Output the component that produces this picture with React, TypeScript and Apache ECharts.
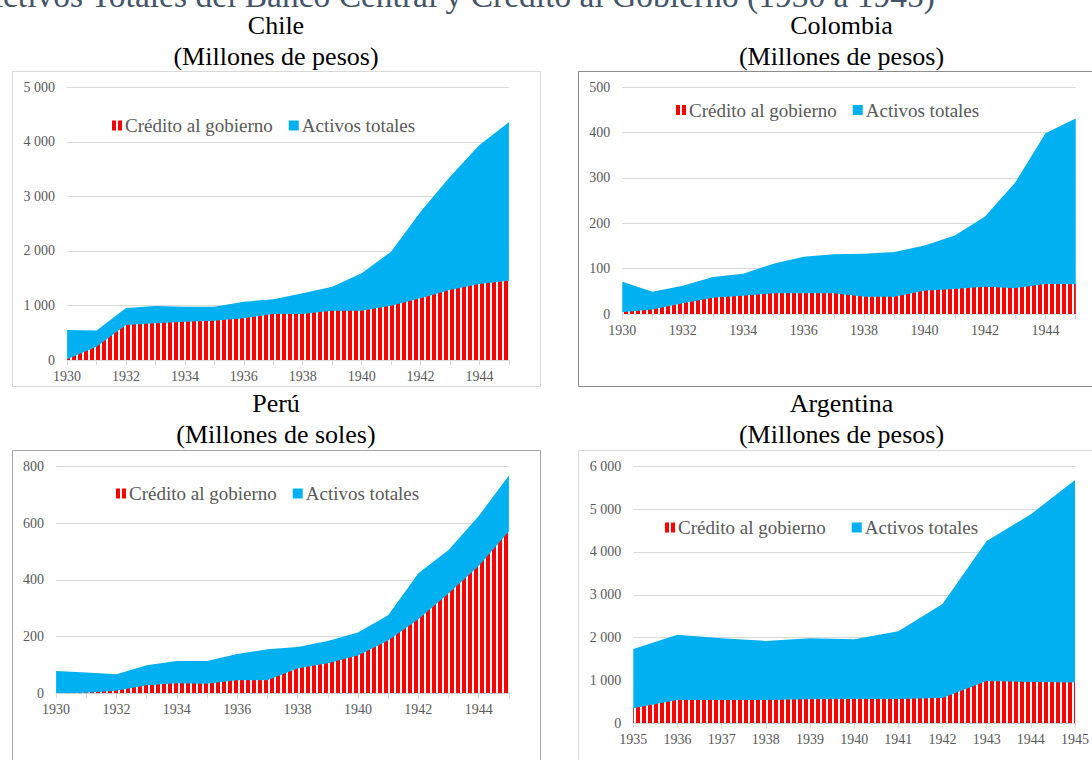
import React, { useEffect, useRef } from 'react';
import * as echarts from 'echarts';

const yearsA = ['1930', '1931', '1932', '1933', '1934', '1935', '1936', '1937', '1938', '1939', '1940', '1941', '1942', '1943', '1944', '1945'];
const yearsB = ['1935', '1936', '1937', '1938', '1939', '1940', '1941', '1942', '1943', '1944', '1945'];

const chileActivos = [550, 540, 953, 990, 978, 978, 1070, 1112, 1222, 1345, 1589, 1987, 2720, 3362, 3943, 4358];
const chileCredito = [15, 245, 642, 672, 703, 721, 764, 844, 844, 905, 905, 996, 1131, 1284, 1394, 1455];
const colombiaActivos = [71, 49, 62.5, 81.6, 89, 111, 126, 131.6, 133, 137, 151, 173, 215, 290, 398.5, 431];
const colombiaCredito = [4, 10, 23.5, 36, 40, 45.6, 45.6, 45.6, 38, 38, 51.5, 55, 60, 57, 66, 65.5];
const peruActivos = [78.7, 73, 67, 98.7, 114, 114, 138.6, 155, 163, 184, 214, 275, 423, 505, 625, 768];
const peruCredito = [0, 2, 9, 28, 35, 34, 46, 46, 87, 106, 133, 186, 261, 352, 449, 570];
const argentinaActivos = [1735, 2070, 1984, 1922, 1984, 1961, 2148, 2786, 4257, 4879, 5681];
const argentinaCredito = [350, 545, 545, 545, 560, 568, 568, 591, 988, 965, 950];

const SERIES_CREDITO = 'Crédito al gobierno';
const SERIES_ACTIVOS = 'Activos totales';
const MAIN_TITLE = 'Activos Totales del Banco Central y Crédito al Gobierno (1930 a 1945)';

const FONT = "'Liberation Serif', 'Times New Roman', serif";
const BLUE = '#00B0F0';
const RED = '#FF0000';
const GRID_COLOR = '#D9D9D9';
const LABEL_COLOR = '#595959';

function fmt(v: number) {
  const s = String(Math.round(v));
  return s.replace(/\B(?=(\d{3})+(?!\d))/g, ' ');
}

function makePattern() {
  const c = document.createElement('canvas');
  c.width = 6;
  c.height = 6;
  const ctx = c.getContext('2d')!;
  ctx.fillStyle = '#FFFFFF';
  ctx.fillRect(0, 0, 6, 6);
  ctx.fillStyle = RED;
  ctx.fillRect(0, 0, 4, 6);
  return { image: c.toDataURL(), repeat: 'repeat', imageWidth: 6, imageHeight: 6 };
}

export default function App() {
  const ref = useRef<HTMLDivElement>(null);
  useEffect(() => {
    if (!ref.current) return;
    const chart = echarts.init(ref.current, null, { renderer: 'svg' });
    const pattern = makePattern();
    const labelStyle = { color: LABEL_COLOR, fontFamily: FONT, fontSize: 14 };

    const grids = [
      { left: 67.1, top: 87.3, width: 441.8, height: 272.7 },
      { left: 622.3, top: 87.3, width: 453.4, height: 226.7 },
      { left: 56.1, top: 466.3, width: 452.8, height: 227 },
      { left: 633.3, top: 466.3, width: 442.4, height: 257 },
    ];
    const cats = [yearsA, yearsA, yearsA, yearsB];
    const labelIntervals = [1, 1, 1, 0];
    const maxes = [5000, 500, 800, 6000];
    const intervals = [1000, 100, 200, 1000];
    const activos = [chileActivos, colombiaActivos, peruActivos, argentinaActivos];
    const credito = [chileCredito, colombiaCredito, peruCredito, argentinaCredito];
    const legendPos = [
      { left: 112, top: 116, gap: 16 },
      { left: 676, top: 100.5, gap: 16 },
      { left: 116, top: 484, gap: 16 },
      { left: 665, top: 518, gap: 26 },
    ];

    const xAxis = cats.map((data, i) => ({
      type: 'category',
      gridIndex: i,
      data,
      boundaryGap: false,
      axisLine: { show: true, lineStyle: { color: GRID_COLOR, width: 1 } },
      axisTick: { show: true, interval: 0, length: 5, lineStyle: { color: GRID_COLOR } },
      axisLabel: { interval: labelIntervals[i], margin: 9, ...labelStyle },
      splitLine: { show: false },
    }));
    const yAxis = maxes.map((max, i) => ({
      type: 'value',
      gridIndex: i,
      min: 0,
      max,
      interval: intervals[i],
      axisLine: { show: false },
      axisTick: { show: false },
      axisLabel: { margin: 12, formatter: fmt, ...labelStyle },
      splitLine: { lineStyle: { color: GRID_COLOR, width: 1 } },
    }));
    const series: any[] = [];
    for (let i = 0; i < 4; i++) {
      series.push({
        type: 'line',
        name: SERIES_ACTIVOS,
        xAxisIndex: i,
        yAxisIndex: i,
        data: activos[i],
        symbol: 'none',
        lineStyle: { width: 0, opacity: 0 },
        itemStyle: { color: BLUE },
        areaStyle: { color: BLUE, opacity: 1 },
        z: 2,
      });
      series.push({
        type: 'line',
        name: SERIES_CREDITO,
        xAxisIndex: i,
        yAxisIndex: i,
        data: credito[i],
        symbol: 'none',
        lineStyle: { width: 0, opacity: 0 },
        itemStyle: { color: RED },
        areaStyle: { color: pattern, opacity: 1 },
        z: 3,
      });
    }
    const legend = legendPos.map((p) => ({
      left: p.left,
      top: p.top,
      orient: 'horizontal',
      padding: 0,
      itemGap: p.gap,
      itemWidth: 10,
      itemHeight: 10,
      selectedMode: false,
      textStyle: { color: LABEL_COLOR, fontFamily: FONT, fontSize: 19, padding: [0, 0, 0, -2] },
      data: [
        { name: SERIES_CREDITO, icon: 'path://M0 0H4V10H0Z M6 0H10V10H6Z', itemStyle: { color: RED } },
        { name: SERIES_ACTIVOS, icon: 'rect', itemStyle: { color: BLUE } },
      ],
    }));

    const titleText = (x: number, y: number, text: string) => ({
      type: 'text',
      x,
      y,
      style: { text, fill: '#000000', fontFamily: FONT, fontSize: 26, align: 'center', verticalAlign: 'middle' },
    });
    const box = (x: number, y: number, w: number, h: number, stroke: string) => ({
      type: 'rect',
      shape: { x, y, width: w, height: h },
      style: { fill: 'none', stroke, lineWidth: 1 },
      z: -1,
    });

    const graphic = [
      {
        type: 'text',
        x: 935,
        y: -4.5,
        style: { text: MAIN_TITLE, fill: '#44546A', fontFamily: FONT, fontSize: 33.5, align: 'right', verticalAlign: 'middle' },
      },
      titleText(276, 25.2, 'Chile'),
      titleText(276, 56.2, '(Millones de pesos)'),
      titleText(841.5, 25.2, 'Colombia'),
      titleText(841.5, 56.2, '(Millones de pesos)'),
      titleText(276, 403.9, 'Perú'),
      titleText(276, 434.5, '(Millones de soles)'),
      titleText(841.5, 403.9, 'Argentina'),
      titleText(841.5, 434.5, '(Millones de pesos)'),
      box(12.5, 71.5, 528, 315, '#D9D9D9'),
      box(578.5, 71.5, 530, 315, '#8C8C8C'),
      box(12.5, 450.5, 528, 330, '#A6A6A6'),
      box(578.5, 450.5, 530, 330, '#D9D9D9'),
    ];

    chart.setOption({
      animation: false,
      backgroundColor: '#FFFFFF',
      grid: grids,
      xAxis,
      yAxis,
      series,
      legend,
      graphic,
    });
    return () => chart.dispose();
  }, []);
  return (
    <div
      ref={ref}
      style={{ position: 'absolute', left: 0, top: 0, width: 1092, height: 760, background: '#FFFFFF' }}
    />
  );
}
